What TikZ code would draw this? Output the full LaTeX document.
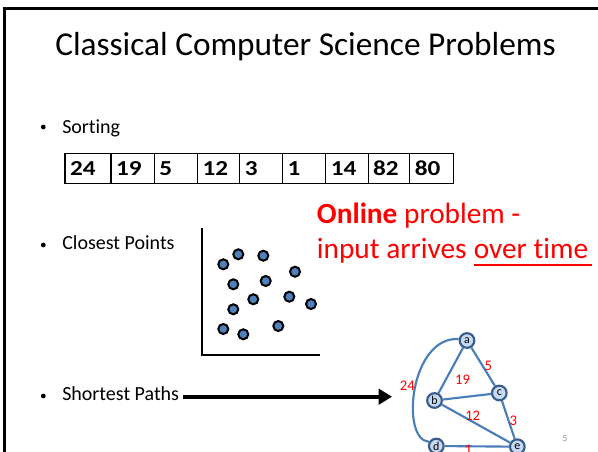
\documentclass[tikz,border=0pt]{standalone}
\usepackage{fontspec}
\setmainfont[Ligatures=NoCommon]{Carlito}
\newfontfamily\cellfont[Ligatures=NoCommon, FakeStretch=1.18]{Carlito}
\usetikzlibrary{arrows.meta,calc,backgrounds}

\definecolor{dotblue}{HTML}{4F81BD}
\definecolor{edgeblue}{HTML}{4A7EBB}
\definecolor{nodefill}{HTML}{C6D9F1}
\definecolor{nodeline}{HTML}{385D8A}
\definecolor{pagegray}{HTML}{8C8C8C}

\tikzset{
  bulletdot/.style={circle, fill=black, inner sep=0pt, minimum size=3.6pt},
  bullettext/.style={anchor=base west, inner sep=0pt, font=\fontsize{15}{18}\selectfont},
  cell/.style={draw=black, line width=0.8pt, anchor=west, outer sep=0pt,
    minimum height=22.5pt, inner xsep=3.75pt, inner ysep=0pt, align=left,
    font=\cellfont\bfseries\fontsize{16}{18}\selectfont},
  ptdot/.style={circle, draw=black, line width=1.5pt, fill=dotblue,
    inner sep=0pt, minimum size=7.5pt},
  gnode/.style={circle, draw=nodeline, line width=1.6pt, fill=nodefill,
    inner sep=0pt, minimum size=11pt, font=\fontsize{9}{10}\selectfont},
  gedge/.style={draw=edgeblue, line width=1.6pt},
  wlabel/.style={text=red, inner sep=0pt, font=\fontsize{11}{12}\selectfont},
  redtext/.style={text=red, anchor=base west, inner sep=0pt,
    font=\fontsize{22}{26}\selectfont}
}

\begin{document}
\begin{tikzpicture}[x=0.75pt, y=-0.75pt]
\useasboundingbox (0,0) rectangle (598,452);
\clip (0,0) rectangle (598,452);

% slide frame
\coordinate (frameBL) at (4.7,470);
\coordinate (frameTR) at (620,8.7);
\draw[line width=1.9pt] (frameBL) |- (frameTR);

% title
\node[anchor=base west, inner sep=0pt, font=\fontsize{25}{30}\selectfont]
  (title) at (55,56) {Classical Computer Science Problems};

% bullet list
\node[bulletdot] (b1) at (43.3,127) {};
\node[bullettext] (t1) at (62,134) {Sorting};
\node[bulletdot] (b2) at (43.3,245) {};
\node[bullettext] (t2) at (62,249.5) {Closest Points};
\node[bulletdot] (b3) at (43.3,396) {};
\node[bullettext] (t3) at (62,400) {Shortest Paths};

% array to be sorted
\node[cell, text width=27pt] (c1) at (65,168.3) {24};
\node[cell, text width=25pt] (c2) at (c1.east) {19};
\node[cell, text width=25pt] (c3) at (c2.east) {5};
\node[cell, text width=24.2pt] (c4) at (c3.east) {12};
\node[cell, text width=24.5pt] (c5) at (c4.east) {3};
\node[cell, text width=25pt] (c6) at (c5.east) {1};
\node[cell, text width=24.2pt] (c7) at (c6.east) {14};
\node[cell, text width=23.8pt] (c8) at (c7.east) {82};
\node[cell, text width=25pt] (c9) at (c8.east) {80};

% closest points: axes and scattered points
\coordinate (axtop) at (202,228);
\coordinate (axright) at (320,355);
\draw[line width=1.5pt] (axtop) |- (axright);
\foreach \n/\px/\py in {1/223.3/264.3, 2/238.3/254.3, 3/263.3/255.7, 4/295/271.7,
  5/233.3/284.3, 6/265.7/281, 7/253.3/299.3, 8/289.3/296.7, 9/311/304,
  10/233.3/309.3, 11/223.3/329, 12/243.3/334.3, 13/278.3/326}
  \node[ptdot] (p\n) at (\px,\py) {};

% online remark
\node[redtext] (on1) at (316.7,223.3) {\textbf{Online} problem -};
\node[redtext] (on2) at (316.7,258.3) {input arrives};
\node[redtext] (on3) at ($(on2.base east)+(6.6,0)$) {over time};
\coordinate (ulS) at ($(on3.base west)+(0,6.7)$);
\coordinate (ulE) at ($(on3.base east)+(3.5,6.7)$);
\draw[red, line width=1.5pt] (ulS) -- (ulE);

% arrow to the graph
\coordinate (arrS) at (183,396.7);
\coordinate (arrE) at (392,396.7);
\draw[line width=3pt, -{Triangle[length=10pt, width=11.5pt]}] (arrS) -- (arrE);

% weighted graph
\node[gnode] (a) at (467,340.5) {a};
\node[gnode] (b) at (434.5,400.5) {b};
\node[gnode] (c) at (499.3,393) {c};
\node[gnode] (d) at (436.3,446) {d};
\node[gnode] (e) at (517.3,446.7) {e};

\begin{scope}[on background layer]
\draw[gedge] (a) -- (b);
\draw[gedge] (a) -- (c);
\draw[gedge] (b) -- (c);
\draw[gedge] (b) -- (e);
\draw[gedge] (c) -- (e);
\draw[gedge] (d) -- (e);
\draw[gedge] (a.170) .. controls (410,336) and (400,440) .. (d.150);
\end{scope}

\node[wlabel] (w5) at (488.3,365.5) {5};
\node[wlabel] (w19) at (462.5,380) {19};
\node[wlabel] (w24) at (407.3,385.5) {24};
\node[wlabel] (w12) at (472.7,415.3) {12};
\node[wlabel] (w3) at (513.3,420.5) {3};
\node[wlabel] (w1) at (468.3,450) {1};

% slide number
\node[text=pagegray, inner sep=0pt, font=\fontsize{7}{8}\selectfont] (pgnum) at (565,438.3) {5};
\end{tikzpicture}
\end{document}
